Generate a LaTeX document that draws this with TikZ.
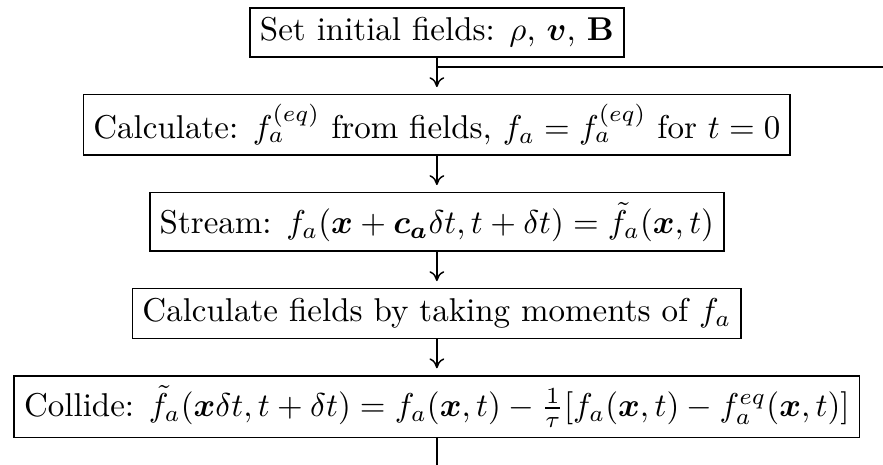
\documentclass[tikz,border=0pt]{standalone}
\usepackage{amsmath,bm}
\usetikzlibrary{arrows.meta,positioning,calc}
\tikzset{
  etape/.style={draw,line width=0.5pt,inner sep=3pt,font=\normalsize},
  fleche/.style={-{To[length=3pt,width=4.5pt]},line width=0.45pt,shorten >=2pt},
  trait/.style={line width=0.45pt},
}
\begin{document}
\begin{tikzpicture}[node distance=10.8pt]
  \useasboundingbox (-132.4pt,2.1pt) rectangle (135.2pt,-138.8pt);
  \node[etape,anchor=north] (init) at (0,0) {Set initial fields: $\rho$, $\bm{v}$, $\mathbf{B}$};
  \node[etape,below=of init] (equil) {Calculate: $f_a^{(eq)}$ from fields, $f_a=f_a^{(eq)}$ for $t=0$};
  \node[etape,below=of equil] (stream) {Stream: $f_a(\bm{x}+\bm{c_a}\delta t,t+\delta t)=\tilde{f}_a(\bm{x},t)$};
  \node[etape,below=of stream] (moments) {Calculate fields by taking moments of $f_a$};
  \node[etape,below=of moments] (collide) {Collide: $\tilde{f}_a(\bm{x}\delta t,t+\delta t)=f_a(\bm{x},t)-\frac{1}{\tau}[f_a(\bm{x},t)-f_a^{eq}(\bm{x},t)]$};
  % fleches entre les etapes
  \draw[fleche] (init) -- (equil);
  \draw[fleche] (equil) -- (stream);
  \draw[fleche] (stream) -- (moments);
  \draw[fleche] (moments) -- (collide);
  % boucle (coupee)
  \coordinate (jonction) at ($(init.south)+(0,-2.7pt)$);
  \coordinate (bord) at (135.2pt,0);
  \coordinate (bas) at (0,-138.8pt);
  \draw[trait] (jonction) -- (jonction -| bord);
  \draw[trait] (collide.south) -- (collide.south |- bas);
\end{tikzpicture}
\end{document}
